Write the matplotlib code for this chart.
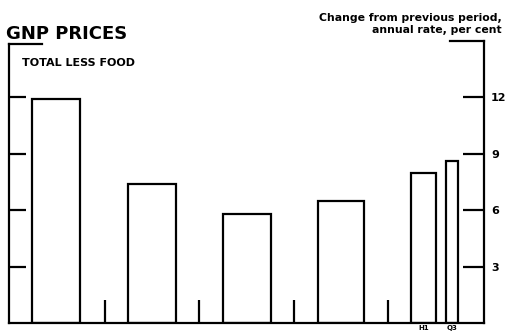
import matplotlib.pyplot as plt

# === Data ===
periods = ["1975", "1976", "1977", "1978", "1979 H1", "1979 Q3"]
changes = [11.9, 7.4, 5.8, 6.5, 8.0, 8.6]
period_labels = ["", "", "", "", "H1", "Q3"]
y_ticks = [3, 6, 9, 12]
y_tick_labels = ["3", "6", "9", "12"]

# === Layout (x in pixel-like units from left spine) ===
bar_left = [23, 119, 214, 309, 402, 437]
bar_width = [48, 48, 48, 46, 25, 12]
year_marks = [96, 190, 285, 379]
year_mark_height = 1.2

plt.rcParams['font.family'] = ['DejaVu Sans']

fig = plt.figure(figsize=(5.05, 3.34), dpi=100)
ax = fig.add_axes([9 / 505, 11 / 334, 475 / 505, 282 / 334])
ax.set_xlim(0, 475)
ax.set_ylim(0, 15)

lw = 1.6
ax.bar(bar_left, changes, width=bar_width, align='edge',
       facecolor='white', edgecolor='black', linewidth=lw)
ax.vlines(year_marks, 0, year_mark_height, color='black', linewidth=lw)

for left, w, lab in zip(bar_left, bar_width, period_labels):
    if lab:
        ax.text(left + w / 2, -0.1, lab, ha='center', va='top',
                fontsize=5, fontweight='bold')

# spines
ax.spines['top'].set_visible(False)
for s in ['left', 'right', 'bottom']:
    ax.spines[s].set_linewidth(lw)
ax.spines['left'].set_bounds(0, 14.85)
ax.plot([0, 33], [14.85, 14.85], color='black', lw=lw, clip_on=False)
ax.plot([441, 475], [15.0, 15.0], color='black', lw=lw, clip_on=False)
ax.spines['right'].set_bounds(0, 15.0)

ax.set_xticks([])
ax.set_yticks(y_ticks)
ax.set_yticklabels([])
ax.tick_params(axis='y', direction='in', length=12, width=lw)

ax2 = ax.twinx()
ax2.set_ylim(ax.get_ylim())
ax2.set_yticks(y_ticks)
ax2.set_yticklabels(y_tick_labels, fontsize=8, fontweight='bold')
ax2.tick_params(axis='y', direction='in', length=15, width=lw, pad=5)
for s in ['top', 'left', 'bottom', 'right']:
    ax2.spines[s].set_visible(False)

# texts
fig.text(6 / 505, 1 - 39 / 334, "GNP PRICES", fontsize=13, fontweight='bold',
         ha='left', va='baseline')
fig.text(22 / 505, 1 - 66 / 334, "TOTAL LESS FOOD", fontsize=8,
         fontweight='bold', ha='left', va='baseline')
fig.text(502 / 505, 1 - 21 / 334, "Change from previous period,", fontsize=7.8,
         fontweight='bold', ha='right', va='baseline')
fig.text(502 / 505, 1 - 33 / 334, "annual rate, per cent", fontsize=7.8,
         fontweight='bold', ha='right', va='baseline')

fig.savefig("out.png", dpi=100)
